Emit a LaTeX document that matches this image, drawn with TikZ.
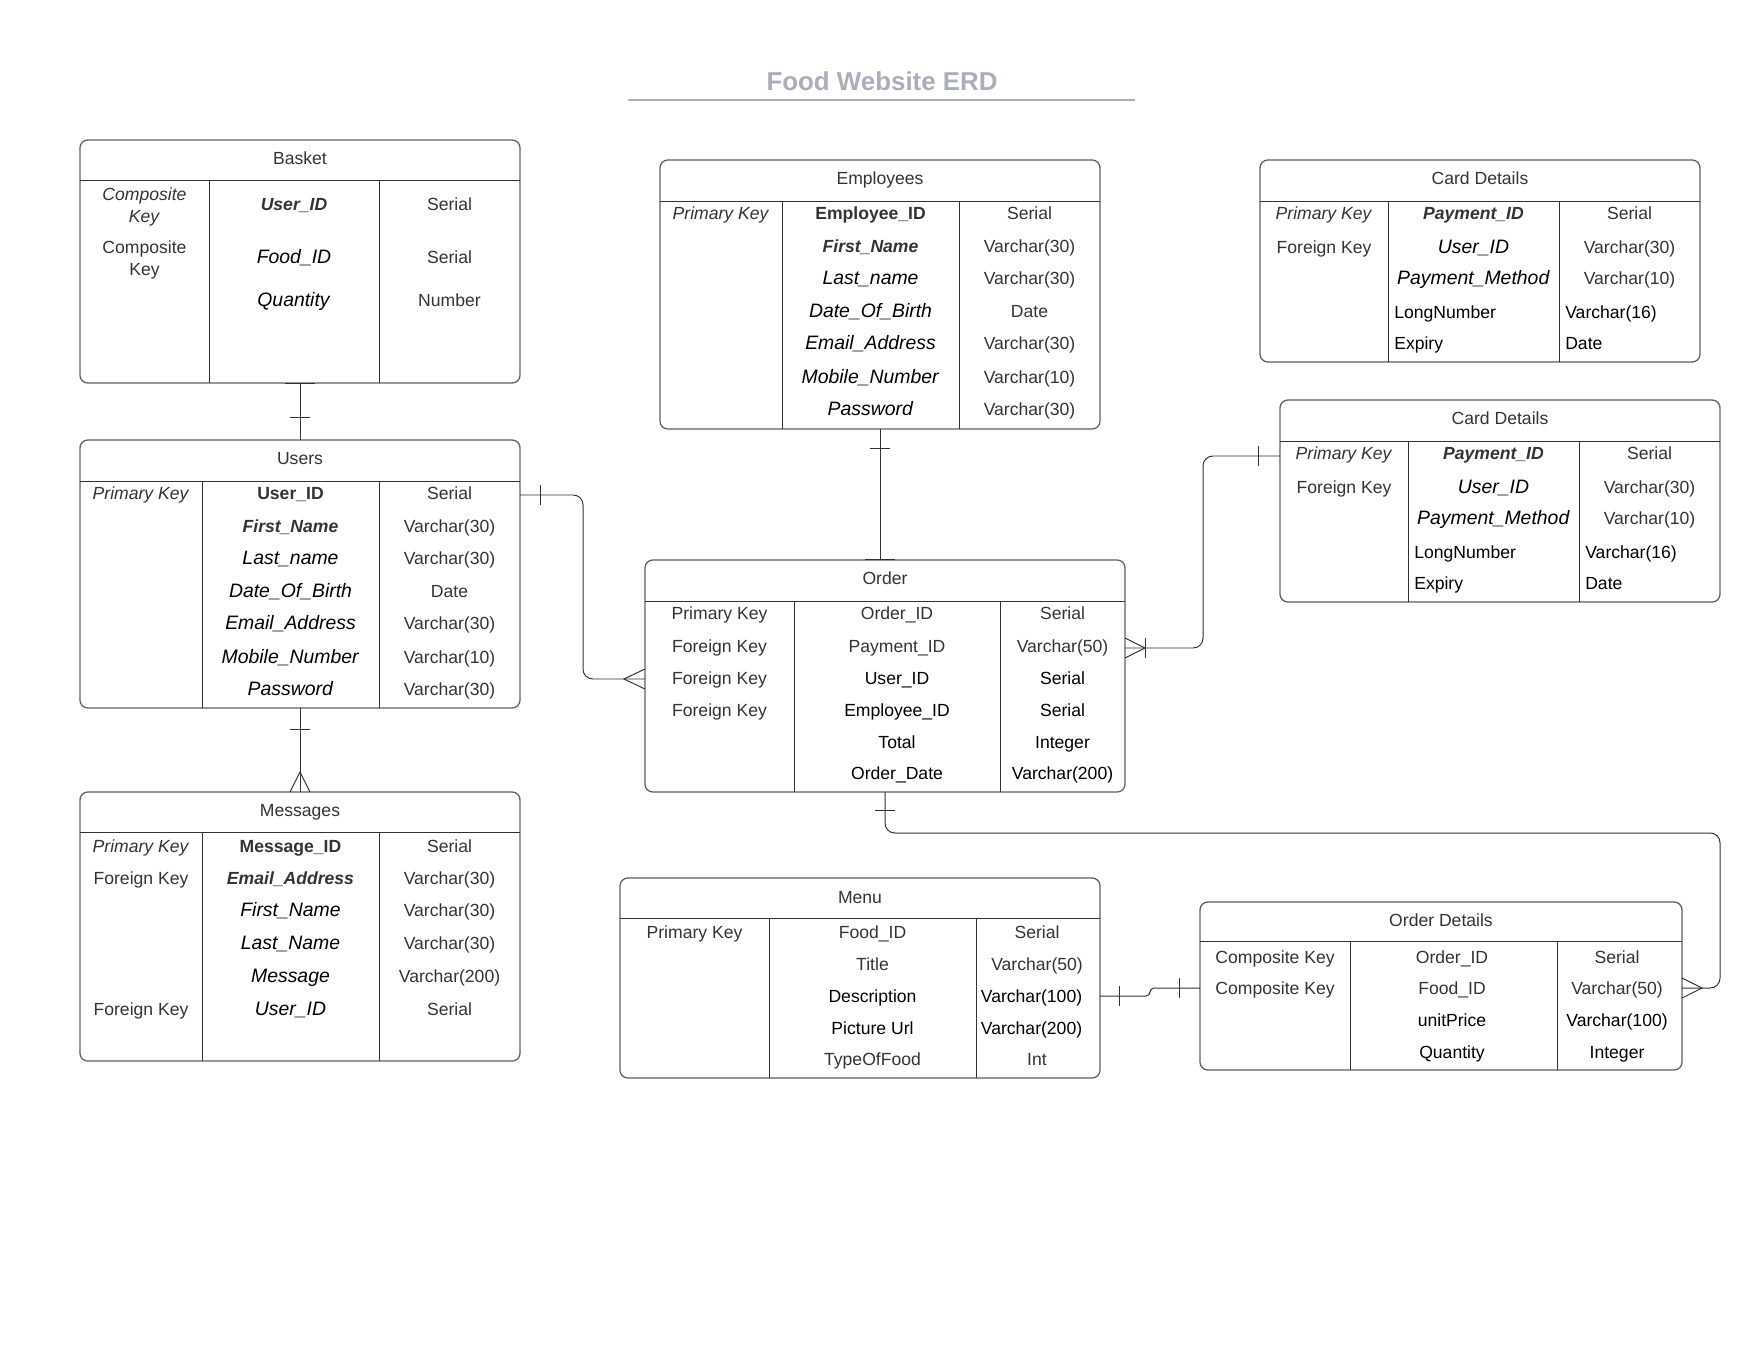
\documentclass[tikz,border=0pt]{standalone}
\usepackage{fontspec}
\setmainfont{Liberation Sans}
\definecolor{ttlgray}{HTML}{A9AEB8}
\definecolor{txtgray}{HTML}{333333}
\definecolor{linegray}{HTML}{5F5F5F}
\newcommand{\blk}[1]{\textcolor{black}{#1}}
\newcommand{\blkit}[1]{\textcolor{black}{\fontsize{13.8}{16}\selectfont\textit{#1}}}

\begin{document}
\begin{tikzpicture}[x=0.025cm, y=-0.025cm,
  tbl/.style={draw=linegray, line width=0.9pt, rounded corners=0.2cm, inner sep=0pt, outer sep=0pt},
  grid/.style={draw=txtgray, line width=0.7pt},
  rel/.style={draw=txtgray, line width=0.7pt},
  cell/.style={font=\fontsize{12.5}{15}\selectfont, text=txtgray, text height=9pt, text depth=0pt, inner sep=0pt},
  ttl/.style={font=\fontsize{18.4}{22}\selectfont\bfseries, text=ttlgray, text height=13.2pt, text depth=0pt, inner sep=0pt}]
  \useasboundingbox (0,0) rectangle (1760,1360);

  % title
  \node[ttl] (title) at (882,81) {Food Website ERD};
  \draw[ttlgray, line width=1.5pt] (628,100) -- (1135,100);

  % Basket
  \node[tbl, minimum width=11cm, minimum height=6.075cm] (basket) at (300,261.5) {};
  \node[cell] (basket-h) at (300,158) {Basket};
  \draw[grid] (80,180) -- (520,180);
  \draw[grid] (209,180) -- (209,383);
  \draw[grid] (379,180) -- (379,383);
  \node[cell] (basket-k1a) at (144.5,194) {\textit{Composite}};
  \node[cell] (basket-k1b) at (144.5,216) {\textit{Key}};
  \node[cell] (basket-k2a) at (144.5,247) {Composite};
  \node[cell] (basket-k2b) at (144.5,269) {Key};
  \foreach \y/\f/\t [count=\i] in {
    204/\textbf{\textit{User\_ID}}/Serial,
    257/\blkit{Food\_ID}/Serial,
    300/\blkit{Quantity}/Number}{
    \node[cell] (basket-f\i) at (294,\y) {\f};
    \node[cell] (basket-t\i) at (449.5,\y) {\t};
  }

  % Users
  \node[tbl, minimum width=11cm, minimum height=6.7cm] (users) at (300,574) {};
  \node[cell] (users-h) at (300,458) {Users};
  \draw[grid] (80,481) -- (520,481);
  \draw[grid] (202,481) -- (202,708);
  \draw[grid] (379,481) -- (379,708);
  \foreach \y/\k/\f/\t [count=\i] in {
    493/\textit{Primary Key}/\textbf{User\_ID}/Serial,
    526/{}/\textbf{\textit{First\_Name}}/Varchar(30),
    558/{}/\blkit{Last\_name}/Varchar(30),
    591/{}/\blkit{Date\_Of\_Birth}/Date,
    623/{}/\blkit{Email\_Address}/Varchar(30),
    657/{}/\blkit{Mobile\_Number}/Varchar(10),
    689/{}/\blkit{Password}/Varchar(30)}{
    \node[cell] (users-k\i) at (141,\y) {\k};
    \node[cell] (users-f\i) at (290.5,\y) {\f};
    \node[cell] (users-t\i) at (449.5,\y) {\t};
  }

  % Messages
  \node[tbl, minimum width=11cm, minimum height=6.725cm] (messages) at (300,926.5) {};
  \node[cell] (messages-h) at (300,810) {Messages};
  \draw[grid] (80,832) -- (520,832);
  \draw[grid] (202,832) -- (202,1061);
  \draw[grid] (379,832) -- (379,1061);
  \foreach \y/\k/\f/\t [count=\i] in {
    846/\textit{Primary Key}/\textbf{Message\_ID}/Serial,
    878/Foreign Key/\textbf{\textit{Email\_Address}}/Varchar(30),
    910/{}/\blkit{First\_Name}/Varchar(30),
    943/{}/\blkit{Last\_Name}/Varchar(30),
    976/{}/\blkit{Message}/Varchar(200),
    1009/Foreign Key/\blkit{User\_ID}/Serial}{
    \node[cell] (messages-k\i) at (141,\y) {\k};
    \node[cell] (messages-f\i) at (290.5,\y) {\f};
    \node[cell] (messages-t\i) at (449.5,\y) {\t};
  }

  % Employees
  \node[tbl, minimum width=11cm, minimum height=6.725cm] (employees) at (880,294.5) {};
  \node[cell] (employees-h) at (880,178) {Employees};
  \draw[grid] (660,201) -- (1100,201);
  \draw[grid] (782,201) -- (782,429);
  \draw[grid] (959,201) -- (959,429);
  \foreach \y/\k/\f/\t [count=\i] in {
    213/\textit{Primary Key}/\textbf{Employee\_ID}/Serial,
    246/{}/\textbf{\textit{First\_Name}}/Varchar(30),
    278/{}/\blkit{Last\_name}/Varchar(30),
    311/{}/\blkit{Date\_Of\_Birth}/Date,
    343/{}/\blkit{Email\_Address}/Varchar(30),
    377/{}/\blkit{Mobile\_Number}/Varchar(10),
    409/{}/\blkit{Password}/Varchar(30)}{
    \node[cell] (employees-k\i) at (721,\y) {\k};
    \node[cell] (employees-f\i) at (870.5,\y) {\f};
    \node[cell] (employees-t\i) at (1029.5,\y) {\t};
  }

  % Card Details (twice)
  \foreach \nm/\dx/\dy in {card1/0/0, card2/20/240}{
    \node[tbl, minimum width=11cm, minimum height=5.05cm] (\nm) at ({1480+\dx},{261+\dy}) {};
    \node[cell] (\nm-h) at ({1480+\dx},{178+\dy}) {Card Details};
    \draw[grid] ({1260+\dx},{201+\dy}) -- ({1700+\dx},{201+\dy});
    \draw[grid] ({1388+\dx},{201+\dy}) -- ({1388+\dx},{362+\dy});
    \draw[grid] ({1559+\dx},{201+\dy}) -- ({1559+\dx},{362+\dy});
    \foreach \y/\k/\f/\t [count=\i] in {
      213/\textit{Primary Key}/\textbf{\textit{Payment\_ID}}/Serial,
      247/Foreign Key/\blkit{User\_ID}/Varchar(30),
      278/{}/\blkit{Payment\_Method}/Varchar(10)}{
      \node[cell] (\nm-k\i) at ({1324+\dx},{\y+\dy}) {\k};
      \node[cell] (\nm-f\i) at ({1473.5+\dx},{\y+\dy}) {\f};
      \node[cell] (\nm-t\i) at ({1629.5+\dx},{\y+\dy}) {\t};
    }
    \node[cell, anchor=west] (\nm-f4) at ({1394+\dx},{312+\dy}) {\blk{LongNumber}};
    \node[cell, anchor=west] (\nm-t4) at ({1565+\dx},{312+\dy}) {\blk{Varchar(16)}};
    \node[cell, anchor=west] (\nm-f5) at ({1394+\dx},{343+\dy}) {\blk{Expiry}};
    \node[cell, anchor=west] (\nm-t5) at ({1565+\dx},{343+\dy}) {\blk{Date}};
  }

  % Order
  \node[tbl, minimum width=12cm, minimum height=5.8cm] (order) at (885,676) {};
  \node[cell] (order-h) at (885,578) {Order};
  \draw[grid] (645,601) -- (1125,601);
  \draw[grid] (794,601) -- (794,792);
  \draw[grid] (1000,601) -- (1000,792);
  \foreach \y/\k/\f/\t [count=\i] in {
    613/Primary Key/Order\_ID/Serial,
    646/Foreign Key/Payment\_ID/Varchar(50),
    678/Foreign Key/\blk{User\_ID}/\blk{Serial},
    710/Foreign Key/\blk{Employee\_ID}/\blk{Serial},
    742/{}/\blk{Total}/\blk{Integer},
    773/{}/\blk{Order\_Date}/\blk{Varchar(200)}}{
    \node[cell] (order-k\i) at (719.5,\y) {\k};
    \node[cell] (order-f\i) at (897,\y) {\f};
    \node[cell] (order-t\i) at (1062.5,\y) {\t};
  }

  % Menu
  \node[tbl, minimum width=12cm, minimum height=5cm] (menu) at (860,978) {};
  \node[cell] (menu-h) at (860,897) {Menu};
  \draw[grid] (620,918) -- (1100,918);
  \draw[grid] (769,918) -- (769,1078);
  \draw[grid] (976,918) -- (976,1078);
  \foreach \y/\k/\f/\t/\tx [count=\i] in {
    932/Primary Key/Food\_ID/Serial/1037,
    964/{}/Title/Varchar(50)/1037,
    996/{}/\blk{Description}/\blk{Varchar(100)}/1031.5,
    1028/{}/\blk{Picture Url}/\blk{Varchar(200)}/1031.5,
    1059/{}/TypeOfFood/Int/1037}{
    \node[cell] (menu-k\i) at (694.5,\y) {\k};
    \node[cell] (menu-f\i) at (872.5,\y) {\f};
    \node[cell] (menu-t\i) at (\tx,\y) {\t};
  }

  % Order Details
  \node[tbl, minimum width=12.05cm, minimum height=4.2cm] (odetails) at (1441,986) {};
  \node[cell] (odetails-h) at (1441,920) {Order Details};
  \draw[grid] (1200,941) -- (1682,941);
  \draw[grid] (1350,941) -- (1350,1070);
  \draw[grid] (1557,941) -- (1557,1070);
  \foreach \y/\k/\f/\t [count=\i] in {
    957/Composite Key/Order\_ID/Serial,
    988/Composite Key/Food\_ID/Varchar(50),
    1020/{}/\blk{unitPrice}/\blk{Varchar(100)},
    1052/{}/\blk{Quantity}/\blk{Integer}}{
    \node[cell] (odetails-k\i) at (1275,\y) {\k};
    \node[cell] (odetails-f\i) at (1452,\y) {\f};
    \node[cell] (odetails-t\i) at (1617,\y) {\t};
  }

  % relations
  \draw[rel] (basket.south) -- (users.north);
  \draw[rel] (basket.south) ++(-15,0) -- ++(30,0);
  \draw[rel] (users.north) ++(-10,-22) -- ++(20,0);

  \draw[rel] (users.south) -- (messages.north);
  \draw[rel] (users.south) ++(-10,21) -- ++(20,0);
  \draw[rel] (messages.north) ++(-10,0) -- ++(10,-20) -- ++(10,20);

  \coordinate (u-o) at (users.east |- 0,495);
  \coordinate (o-u) at (order.west |- 0,679);
  \draw[rel, rounded corners=7pt] (u-o) -- (583,495) -- (583,679) -- (o-u);
  \draw[rel] (u-o) ++(20,-10) -- ++(0,20);
  \draw[rel] (o-u) ++(0,-10) -- ++(-21,10) -- ++(21,10);

  \coordinate (e-o) at (employees.south);
  \coordinate (o-e) at (employees.south |- order.north);
  \draw[rel] (e-o) -- (o-e);
  \draw[rel] (e-o) ++(-10,19) -- ++(20,0);
  \draw[rel] (o-e) ++(-15,0) -- ++(30,0);

  \coordinate (c-o) at (card2.west |- 0,456);
  \coordinate (o-c) at (order.east |- 0,648);
  \draw[rel, rounded corners=7pt] (c-o) -- (1203,456) -- (1203,648) -- (o-c);
  \draw[rel] (c-o) ++(-21,-10) -- ++(0,20);
  \draw[rel] (o-c) ++(0,-10) -- ++(20,10) -- ++(-20,10);
  \draw[rel] (o-c) ++(20,-10) -- ++(0,20);

  \coordinate (od-o) at (odetails.east |- 0,988);
  \draw[rel, rounded corners=7pt] (order.south) -- (885,833) -- (1720,833) -- (1720,988) -- (od-o);
  \draw[rel] (order.south) ++(-10,18) -- ++(20,0);
  \draw[rel] (od-o) ++(0,-10) -- ++(20,10) -- ++(-20,10);

  \coordinate (m-od) at (menu.east |- 0,996);
  \coordinate (od-m) at (odetails.west |- 0,988);
  \draw[rel, rounded corners=3pt] (m-od) -- (1150,996) -- (1150,988) -- (od-m);
  \draw[rel] (m-od) ++(19,-10) -- ++(0,20);
  \draw[rel] (od-m) ++(-20,-10) -- ++(0,20);
\end{tikzpicture}
\end{document}
